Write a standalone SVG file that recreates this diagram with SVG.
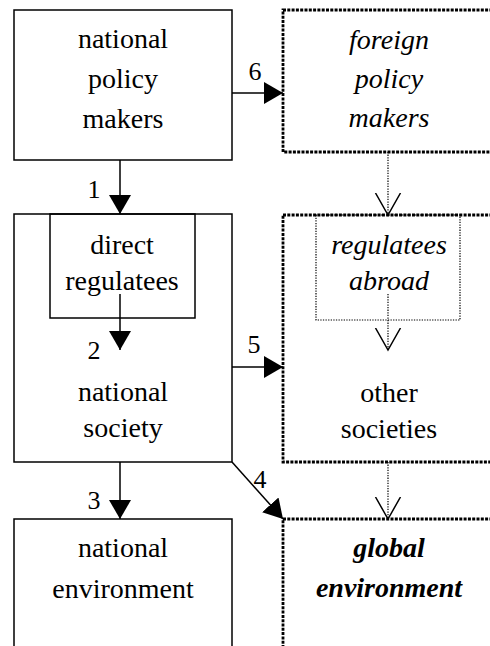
<svg xmlns="http://www.w3.org/2000/svg" width="490" height="646" viewBox="0 0 490 646">
<style>
.solid{fill:none;stroke:#000;stroke-width:1.5}
.thick{fill:none;stroke:#000;stroke-width:2.8;stroke-dasharray:3 1.3}
.thin{fill:none;stroke:#000;stroke-width:1.2;stroke-dasharray:1.3 1.3}
.arr{fill:none;stroke:#000;stroke-width:1.5;marker-end:url(#head)}
.darr{fill:none;stroke:#000;stroke-width:1.2;stroke-dasharray:1.3 1.3;marker-end:url(#vee)}
</style>
<defs>
<marker id="head" markerUnits="userSpaceOnUse" markerWidth="20" markerHeight="24" viewBox="0 0 20 24" refX="19" refY="12" orient="auto">
<path d="M0,1 L19,12 L0,23 z" fill="#000"/>
</marker>
<marker id="vee" markerUnits="userSpaceOnUse" markerWidth="24" markerHeight="28" viewBox="0 0 24 28" refX="22" refY="14" orient="auto">
<path d="M0,1.5 L22,14 L0,26.5" fill="none" stroke="#000" stroke-width="1.5"/>
</marker>
</defs>
<g id="national-policy-makers">
<rect class="solid" x="14" y="10" width="218" height="150"/>
<text font-family="Liberation Serif" font-size="28" text-anchor="middle" x="123" y="48">national</text>
<text font-family="Liberation Serif" font-size="28" text-anchor="middle" x="123" y="88">policy</text>
<text font-family="Liberation Serif" font-size="28" text-anchor="middle" x="123" y="128">makers</text>
</g>
<g id="foreign-policy-makers">
<rect class="thick" x="283" y="10" width="230" height="142"/>
<text font-family="Liberation Serif" font-size="28" text-anchor="middle" font-style="italic" x="389" y="49">foreign</text>
<text font-family="Liberation Serif" font-size="28" text-anchor="middle" font-style="italic" x="389" y="88">policy</text>
<text font-family="Liberation Serif" font-size="28" text-anchor="middle" font-style="italic" x="389" y="127">makers</text>
</g>
<g id="national-society">
<rect class="solid" x="14" y="214" width="218" height="248"/>
<text font-family="Liberation Serif" font-size="28" text-anchor="middle" x="123" y="401">national</text>
<text font-family="Liberation Serif" font-size="28" text-anchor="middle" x="123" y="437">society</text>
</g>
<g id="direct-regulatees">
<rect class="solid" x="50" y="214" width="145" height="104"/>
<text font-family="Liberation Serif" font-size="28" text-anchor="middle" x="122" y="254">direct</text>
<text font-family="Liberation Serif" font-size="28" text-anchor="middle" x="122" y="290">regulatees</text>
</g>
<g id="other-societies">
<rect class="thick" x="283" y="215" width="230" height="247"/>
<text font-family="Liberation Serif" font-size="28" text-anchor="middle" x="389" y="402">other</text>
<text font-family="Liberation Serif" font-size="28" text-anchor="middle" x="389" y="438">societies</text>
</g>
<g id="regulatees-abroad">
<rect class="thin" x="316" y="215" width="144" height="105"/>
<text font-family="Liberation Serif" font-size="28" text-anchor="middle" font-style="italic" x="389" y="254">regulatees</text>
<text font-family="Liberation Serif" font-size="28" text-anchor="middle" font-style="italic" x="389" y="290">abroad</text>
</g>
<g id="national-environment">
<rect class="solid" x="14" y="519" width="218" height="200"/>
<text font-family="Liberation Serif" font-size="28" text-anchor="middle" x="123" y="557">national</text>
<text font-family="Liberation Serif" font-size="28" text-anchor="middle" x="123" y="598">environment</text>
</g>
<g id="global-environment">
<rect class="thick" x="283" y="519" width="230" height="200"/>
<text font-family="Liberation Serif" font-size="28" text-anchor="middle" font-style="italic" font-weight="bold" x="389" y="557">global</text>
<text font-family="Liberation Serif" font-size="28" text-anchor="middle" font-style="italic" font-weight="bold" x="389" y="597">environment</text>
</g>
<g id="connectors">
<line class="arr" x1="120" y1="160" x2="120" y2="214"/>
<line class="arr" x1="120" y1="294" x2="120" y2="350"/>
<line class="arr" x1="120" y1="462" x2="120" y2="519"/>
<line class="arr" x1="232" y1="462" x2="283" y2="519"/>
<line class="arr" x1="232" y1="367" x2="283" y2="367"/>
<line class="arr" x1="232" y1="93" x2="283" y2="93"/>
<line class="darr" x1="388" y1="152" x2="388" y2="215"/>
<line class="darr" x1="388" y1="294" x2="388" y2="350"/>
<line class="darr" x1="388" y1="462" x2="388" y2="519"/>
<text font-family="Liberation Serif" font-size="26" text-anchor="middle" x="94" y="198">1</text>
<text font-family="Liberation Serif" font-size="26" text-anchor="middle" x="94" y="359">2</text>
<text font-family="Liberation Serif" font-size="26" text-anchor="middle" x="94" y="509">3</text>
<text font-family="Liberation Serif" font-size="26" text-anchor="middle" x="260" y="488">4</text>
<text font-family="Liberation Serif" font-size="26" text-anchor="middle" x="254" y="353">5</text>
<text font-family="Liberation Serif" font-size="26" text-anchor="middle" x="255" y="80">6</text>
</g>
</svg>
